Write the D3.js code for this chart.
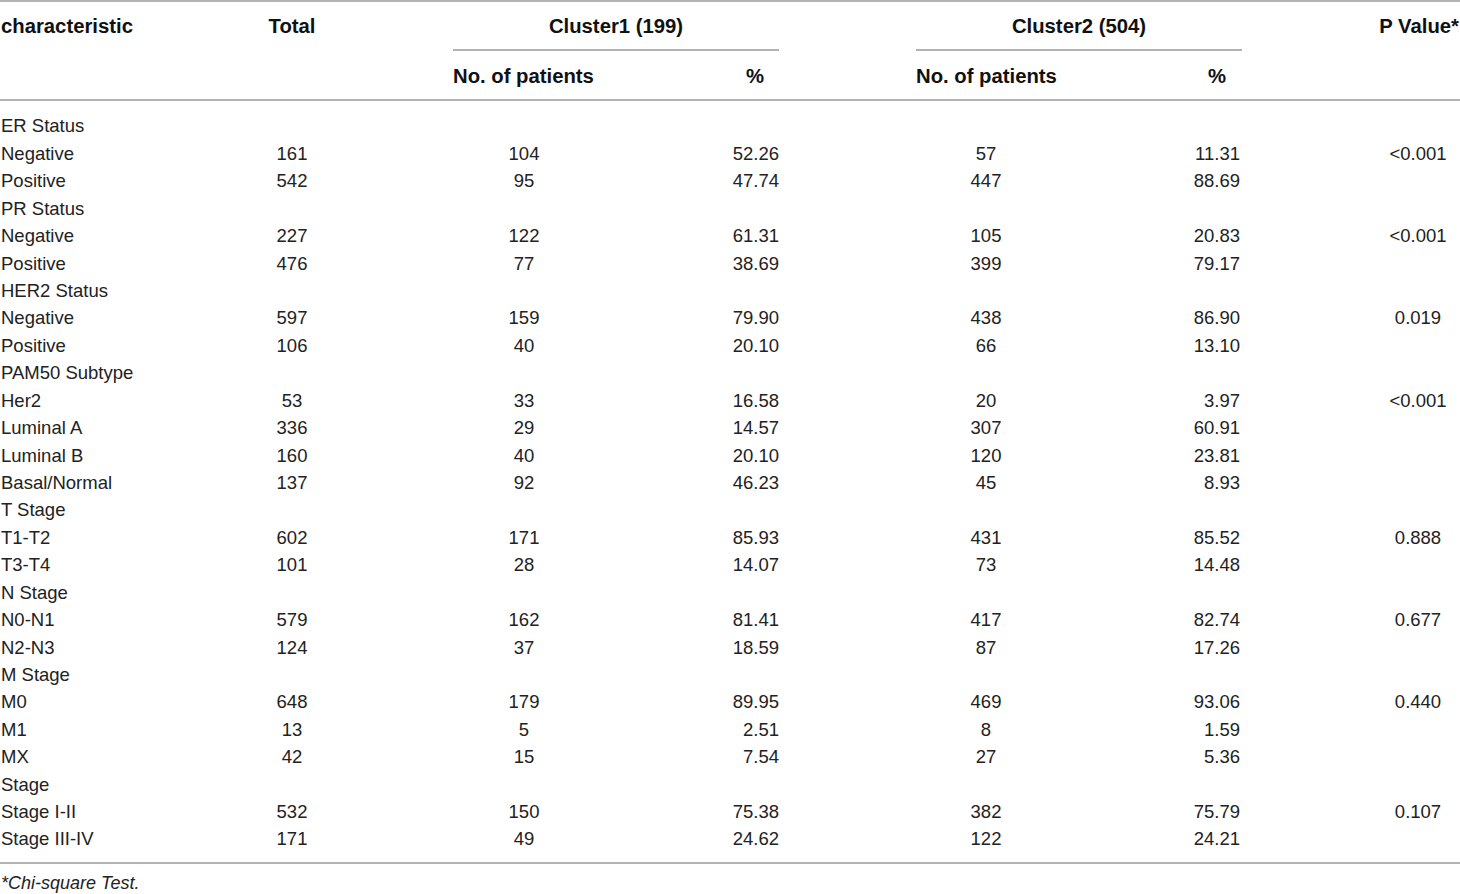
<!DOCTYPE html>
<html>
<head>
<meta charset="utf-8">
<script src="https://cdn.jsdelivr.net/npm/d3@7"></script>
<style>
    body { margin: 0; background: #fff; }
    svg text { font-family: "Liberation Sans", Arial, Helvetica, sans-serif; }
</style>
</head>
<body>
<div id="table-area"></div>
<script>

// table contents, one entry per body row ("" = empty cell)
let rowLabels = ["ER Status", "Negative", "Positive", "PR Status", "Negative", "Positive",
    "HER2 Status", "Negative", "Positive", "PAM50 Subtype", "Her2", "Luminal A", "Luminal B",
    "Basal/Normal", "T Stage", "T1-T2", "T3-T4", "N Stage", "N0-N1", "N2-N3", "M Stage",
    "M0", "M1", "MX", "Stage", "Stage I-II", "Stage III-IV"];

let totals = ["", "161", "542", "", "227", "476", "", "597", "106", "", "53", "336", "160",
    "137", "", "602", "101", "", "579", "124", "", "648", "13", "42", "", "532", "171"];

let cluster1Count = ["", "104", "95", "", "122", "77", "", "159", "40", "", "33", "29", "40",
    "92", "", "171", "28", "", "162", "37", "", "179", "5", "15", "", "150", "49"];

let cluster1Pct = ["", "52.26", "47.74", "", "61.31", "38.69", "", "79.90", "20.10", "", "16.58",
    "14.57", "20.10", "46.23", "", "85.93", "14.07", "", "81.41", "18.59", "", "89.95", "2.51",
    "7.54", "", "75.38", "24.62"];

let cluster2Count = ["", "57", "447", "", "105", "399", "", "438", "66", "", "20", "307", "120",
    "45", "", "431", "73", "", "417", "87", "", "469", "8", "27", "", "382", "122"];

let cluster2Pct = ["", "11.31", "88.69", "", "20.83", "79.17", "", "86.90", "13.10", "", "3.97",
    "60.91", "23.81", "8.93", "", "85.52", "14.48", "", "82.74", "17.26", "", "93.06", "1.59",
    "5.36", "", "75.79", "24.21"];

let pValues = ["", "<0.001", "", "", "<0.001", "", "", "0.019", "", "", "<0.001", "", "", "",
    "", "0.888", "", "", "0.677", "", "", "0.440", "", "", "", "0.107", ""];

let groupHeaders = ["Cluster1 (199)", "Cluster2 (504)"];
let subHeaders = ["No. of patients", "%"];
let footnote = "*Chi-square Test.";

// drawing area
let width = 1460,
    height = 894;

let svg = d3.select("#table-area").append("svg")
    .attr("width", width)
    .attr("height", height);

// row positions
let y = d3.scalePoint()
    .domain(d3.range(rowLabels.length))
    .range([126, 839]);

// columns: values, x anchor, text-anchor
let columns = [
    {values: rowLabels, x: 1, anchor: "start"},
    {values: totals, x: 292, anchor: "middle"},
    {values: cluster1Count, x: 524, anchor: "middle"},
    {values: cluster1Pct, x: 779, anchor: "end"},
    {values: cluster2Count, x: 986, anchor: "middle"},
    {values: cluster2Pct, x: 1240, anchor: "end"},
    {values: pValues, x: 1418, anchor: "middle"}
];

// horizontal rules
let rules = [
    {x1: 0, x2: width, y: 1},
    {x1: 453, x2: 779, y: 50},
    {x1: 916, x2: 1242, y: 50},
    {x1: 0, x2: width, y: 100},
    {x1: 0, x2: width, y: 863}
];

svg.selectAll(".rule")
    .data(rules)
    .enter().append("line")
    .attr("class", "rule")
    .attr("x1", d => d.x1)
    .attr("x2", d => d.x2)
    .attr("y1", d => d.y)
    .attr("y2", d => d.y)
    .attr("stroke", "#9a9a9a")
    .attr("stroke-width", 1.3);

// header
let header = svg.append("g")
    .attr("font-weight", "bold")
    .attr("font-size", 20.3)
    .attr("fill", "#111");

let headerCells = [
    {text: "characteristic", x: 1, y: 26, anchor: "start"},
    {text: "Total", x: 292, y: 26, anchor: "middle"},
    {text: groupHeaders[0], x: 616, y: 26, anchor: "middle"},
    {text: groupHeaders[1], x: 1079, y: 26, anchor: "middle"},
    {text: "P Value*", x: 1459, y: 26, anchor: "end"},
    {text: subHeaders[0], x: 453, y: 76, anchor: "start"},
    {text: subHeaders[1], x: 755, y: 76, anchor: "middle"},
    {text: subHeaders[0], x: 916, y: 76, anchor: "start"},
    {text: subHeaders[1], x: 1217, y: 76, anchor: "middle"}
];

header.selectAll("text")
    .data(headerCells)
    .enter().append("text")
    .attr("x", d => d.x)
    .attr("y", d => d.y)
    .attr("dy", "0.35em")
    .attr("text-anchor", d => d.anchor)
    .text(d => d.text);

// body cells
let body = svg.append("g")
    .attr("font-size", 18.5)
    .attr("fill", "#222");

columns.forEach(col => {
    body.append("g")
        .selectAll("text")
        .data(col.values)
        .enter().append("text")
        .attr("x", col.x)
        .attr("y", (d, i) => y(i))
        .attr("dy", "0.35em")
        .attr("text-anchor", col.anchor)
        .text(d => d);
});

// footnote
svg.append("text")
    .attr("x", 1)
    .attr("y", 883)
    .attr("dy", "0.35em")
    .attr("font-size", 18)
    .attr("font-style", "italic")
    .attr("fill", "#222")
    .text(footnote);

</script>
</body>
</html>
